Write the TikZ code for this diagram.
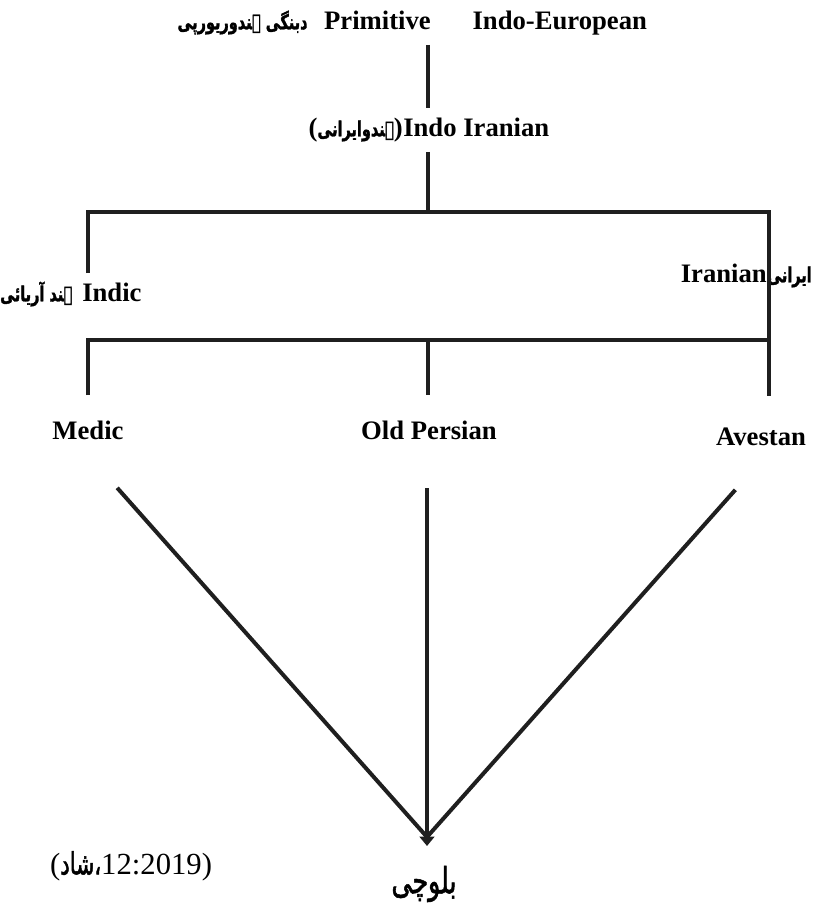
\documentclass[tikz,border=0pt]{standalone}
\usepackage{fontspec}
\setmainfont{Liberation Serif}
\newfontfamily\urdu[Script=Arabic,FakeStretch=0.7,FakeBold=1.5]{DejaVu Sans}
\TeXXeTstate=1
\usetikzlibrary{positioning,arrows.meta}
\newcommand{\urtxt}[1]{{\urdu\fontsize{15.5}{18}\selectfont\beginR #1\endR}}
\tikzset{
  lbl/.style={font=\fontsize{20}{22}\selectfont\bfseries,inner xsep=0pt,inner ysep=7pt,
    text height=14pt,text depth=4.5pt},
  branch/.style={line width=3pt,black!88},
  fan/.style={line width=3pt,black!88},
}
\begin{document}
\begin{tikzpicture}[x=0.75pt,y=-0.75pt]
\useasboundingbox (0,0) rectangle (815,912);
%
\def\xl{88}
\def\xc{428}
\def\xr{769}
\def\yh{212}
\def\yhh{340}
%
\coordinate (h1) at (\xc,\yh);
\coordinate (h1l) at (\xl,\yh);
\coordinate (h1r) at (\xr,\yh);
\coordinate (h2l) at (\xl,\yhh);
\coordinate (h2c) at (\xc,\yhh);
\coordinate (h2r) at (\xr,\yhh);
\coordinate (apex) at (427,837);
\coordinate (tip) at (427,846);
%
\node[lbl,anchor=east] (prim) at (431,23) {Primitive};
\node[lbl,right=31pt of prim] (pie) {Indo-European};
\node[lbl,left=12pt of prim] (pieur) {\urtxt{دبنگی ہندوریورپی}};
%
\node[lbl,anchor=west] (indoir) at (403,130) {Indo Iranian};
\node[lbl,left=0pt of indoir] (indoirur) {(\urtxt{ہندوایرانی})};
%
\node[lbl,anchor=west] (indic) at (82,295) {Indic};
\node[lbl,left=7pt of indic] (indicur) {\urtxt{ہند آریائی}};
\node[lbl,anchor=east] (iran) at (767,276) {Iranian};
\node[lbl,right=0pt of iran] (iranur) {\urtxt{ایرانی}};
%
\node[lbl] (medic) at (\xl,433) {Medic};
\node[lbl] (oldp) at (429,433) {Old Persian};
\node[lbl] (aves) at (761,439) {Avestan};
%
\node[font=\urdu\fontsize{27}{30}\selectfont] (balochi) at (424,884) {\beginR بلوچی\endR};
\node[font=\fontsize{23}{26}\selectfont] (cite) at (131,866) {({\urdu\beginR شاد\endR ،}12:2019)};
%
\draw[branch] (pie.south -| h1) -- (indoir.north -| h1);
\draw[branch] (indoir.south -| h1) -- (h1);
\draw[branch,shorten >=16pt] (indic.north -| h1l) -- (h1l) -- (h1r) -- (aves.north -| h1r);
\draw[branch,shorten <=12pt] (medic.north) -- (h2l) -- (h2r);
\draw[branch,shorten >=12pt] (h2c) -- (oldp.north -| h2c);
%
\draw[fan,shorten <=33pt] (medic.south) -- (apex);
\draw[fan,shorten <=29pt] (aves.south) -- (apex);
\draw[fan,shorten <=25pt,-{Triangle[width=11pt,length=7pt]}] (oldp.south -| tip) -- (tip);
%
\end{tikzpicture}
\end{document}
